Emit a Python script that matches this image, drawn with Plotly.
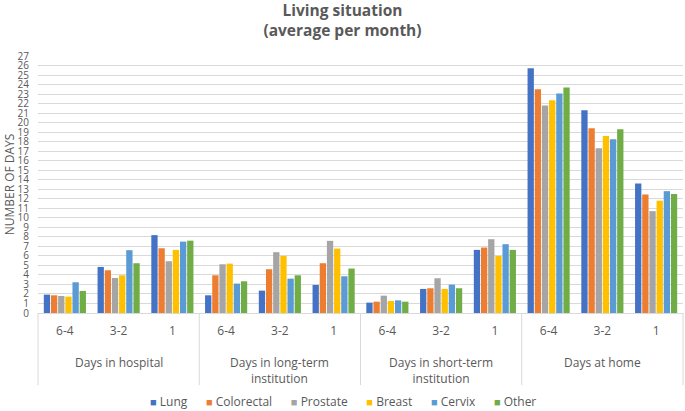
import plotly.graph_objects as go

groups = ["Days in hospital", "Days in long-term<br>institution", "Days in short-term<br>institution", "Days at home"]
periods = ["6-4", "3-2", "1"]

series_names = ["Lung", "Colorectal", "Prostate", "Breast", "Cervix", "Other"]
colors = ["#4472C4", "#ED7D31", "#A5A5A5", "#FFC000", "#5B9BD5", "#70AD47"]

# order: hospital(6-4,3-2,1), long-term(...), short-term(...), home(...)
lung       = [1.93, 4.84, 8.18,  1.86, 2.35, 2.95,  1.09, 2.53, 6.63,  25.7, 21.3, 13.6]
colorectal = [1.86, 4.49, 6.80,  3.96, 4.60, 5.23,  1.19, 2.60, 6.88,  23.5, 19.4, 12.45]
prostate   = [1.79, 3.68, 5.44,  5.12, 6.39, 7.58,  1.82, 3.65, 7.75,  21.8, 17.3, 10.7]
breast     = [1.72, 3.96, 6.63,  5.19, 6.00, 6.77,  1.26, 2.53, 6.00,  22.35, 18.6, 11.8]
cervix     = [3.23, 6.60, 7.50,  3.09, 3.61, 3.86,  1.33, 2.98, 7.23,  23.05, 18.25, 12.8]
other      = [2.32, 5.23, 7.60,  3.33, 3.96, 4.67,  1.19, 2.60, 6.63,  23.7, 19.3, 12.5]

values = [lung, colorectal, prostate, breast, cervix, other]

# unique category keys, labelled by period
cat_keys = [f"{g}|{p}" for g in groups for p in periods]
cat_text = [p for _ in groups for p in periods]

font_family = "'Open Sans', sans-serif"
grey = "#595959"
line_grey = "#D9D9D9"

fig = go.Figure()
for name, col, vals in zip(series_names, colors, values):
    fig.add_trace(go.Bar(x=cat_keys, y=vals, name=name, marker_color=col,
                         marker_line_width=0, showlegend=False))

W, H = 685, 411
L, R, T, B = 38, 2, 56, 98
pw, ph = W - L - R, H - T - B

fig.update_layout(
    width=W, height=H,
    barmode="group", bargap=0.2, bargroupgap=0.12,
    plot_bgcolor="white", paper_bgcolor="white",
    margin=dict(l=L, r=R, t=T, b=B, autoexpand=False),
    font=dict(family=font_family, color=grey, size=12),
    title=dict(text="<b>Living situation<br>(average per month)</b>",
               x=0.5, xanchor="center", xref="container",
               y=1 - 16 / H, yanchor="middle", yref="container",
               font=dict(size=15.5, color=grey, family=font_family)),
    showlegend=False,
    yaxis=dict(range=[0, 27], dtick=1, showgrid=True, gridcolor=line_grey,
               gridwidth=1, zeroline=False, showline=False,
               tickfont=dict(size=10, color=grey),
               ticks="outside", ticklen=6, tickcolor="rgba(0,0,0,0)",
               title=dict(text="NUMBER OF DAYS", font=dict(size=12, color=grey), standoff=0),
               automargin=False, fixedrange=True),
    xaxis=dict(type="category", showline=True, linecolor=line_grey,
               tickmode="array", tickvals=cat_keys, ticktext=cat_text,
               tickfont=dict(size=12, color=grey), automargin=False,
               ticks="outside", ticklen=7, tickcolor="rgba(0,0,0,0)"),
)

# group dividers below the category axis
n_groups = len(groups)
for i in range(n_groups + 1):
    fig.add_shape(type="line", xref="paper", yref="paper",
                  x0=i / n_groups, x1=i / n_groups, y0=0, y1=-72 / ph,
                  line=dict(color=line_grey, width=1))

# group labels
for i, g in enumerate(groups):
    fig.add_annotation(text=g, xref="paper", yref="paper",
                       x=(i + 0.5) / n_groups, xanchor="center",
                       y=-39 / ph, yanchor="top",
                       showarrow=False, font=dict(size=12, color=grey),
                       align="center")

# legend row (colored squares + series names)
sep = "&nbsp;" * 6
legend_text = sep.join(
    f'<span style="color:{c};font-size:11px">■</span> {n}'
    for n, c in zip(series_names, colors)
)
fig.add_annotation(text=legend_text, xref="paper", yref="paper",
                   x=(W / 2 - L) / pw, xanchor="center",
                   y=-(401 - (H - B)) / ph, yanchor="middle",
                   showarrow=False, font=dict(size=12, color=grey))

fig.write_html("out.html",
               config={"displayModeBar": False},
               post_script="document.body.style.margin='0';document.body.style.overflow='hidden';")
